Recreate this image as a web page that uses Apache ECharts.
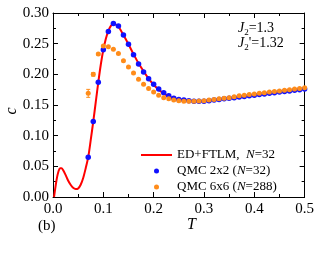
<!DOCTYPE html>
<html>
<head>
<meta charset="utf-8">
<script src="https://cdn.jsdelivr.net/npm/echarts@6/dist/echarts.min.js"></script>
<style>html,body{margin:0;padding:0;background:#fff}#c{width:317px;height:273px}</style>
</head>
<body>
<div id="c"></div>
<script>
// ED+FTLM curve (T, C)
const edT = [0.002,0.005,0.008,0.011,0.014,0.017,0.020,0.025,0.030,0.035,0.040,0.045,0.050,0.055,0.060,0.065,0.070,0.075,0.080,0.085,0.090,0.095,0.100,0.105,0.110,0.115,0.120,0.125,0.130,0.14,0.15,0.16,0.17,0.18,0.19,0.20,0.21,0.22,0.23,0.24,0.25,0.26,0.27,0.28,0.29,0.30,0.32,0.34,0.36,0.38,0.40,0.42,0.44,0.46,0.48,0.50];
const edC = [0.000,0.017,0.032,0.042,0.047,0.047,0.044,0.036,0.027,0.020,0.015,0.013,0.014,0.020,0.031,0.047,0.065,0.093,0.123,0.155,0.187,0.216,0.240,0.258,0.271,0.279,0.282,0.281,0.278,0.264,0.249,0.233,0.218,0.205,0.193,0.183,0.175,0.169,0.164,0.161,0.159,0.158,0.157,0.1563,0.1562,0.1565,0.158,0.160,0.162,0.1645,0.167,0.169,0.171,0.173,0.175,0.177];

// QMC temperatures
const qmcT = [0.07,0.08,0.09,0.10,0.11,0.12,0.13,0.14,0.15,0.16,0.17,0.18,0.19,0.20,0.21,0.22,0.23,0.24,0.25,0.26,0.27,0.28,0.29,0.30,0.31,0.32,0.33,0.34,0.35,0.36,0.37,0.38,0.39,0.40,0.41,0.42,0.43,0.44,0.45,0.46,0.47,0.48,0.49,0.50];
// QMC 2x2 (N=32)
const qmc2C = [0.065,0.123,0.187,0.240,0.270,0.283,0.279,0.264,0.249,0.232,0.217,0.204,0.193,0.184,0.176,0.170,0.165,0.161,0.159,0.158,0.157,0.156,0.156,0.156,0.157,0.158,0.159,0.160,0.161,0.162,0.163,0.164,0.165,0.166,0.167,0.168,0.169,0.170,0.171,0.172,0.173,0.174,0.175,0.176];
// QMC 6x6 (N=288)
const qmc6C = [0.169,0.200,0.233,0.246,0.245,0.241,0.234,0.222,0.212,0.202,0.192,0.184,0.177,0.171,0.166,0.162,0.160,0.158,0.157,0.156,0.156,0.156,0.1565,0.157,0.158,0.159,0.160,0.161,0.162,0.1635,0.165,0.166,0.167,0.168,0.169,0.170,0.171,0.172,0.173,0.174,0.175,0.176,0.177,0.178];
const qmc6Err = [0.0065,0.003,0.0015,0,0,0,0,0,0,0,0,0,0,0,0,0,0,0,0,0,0,0,0,0,0,0,0,0,0,0,0,0,0,0,0,0,0,0,0,0,0,0,0,0];

const xTicks = [0.0,0.1,0.2,0.3,0.4,0.5];
const yTicks = [0.00,0.05,0.10,0.15,0.20,0.25,0.30];

const FONT = 'Liberation Serif';
const RED = '#ff0000', BLUE = '#1010ff', ORANGE = '#ff8c1a';

const edData = edT.map((t,i)=>[t, edC[i]]);
const q2Data = qmcT.map((t,i)=>[t, qmc2C[i]]);
const q6Data = qmcT.map((t,i)=>[t, qmc6C[i]]);
const errData = qmcT.map((t,i)=>[t, qmc6C[i], qmc6Err[i]]).filter(d=>d[2]>0);

const axisCommon = {
  type: 'value',
  axisLine: {show: true, onZero: false, lineStyle: {color: '#000', width: 1}},
  axisTick: {show: true, inside: true, length: 5, lineStyle: {color: '#000'}},
  minorTick: {show: true, splitNumber: 2, length: 3, lineStyle: {color: '#000'}},
  splitLine: {show: false},
};

const chart = echarts.init(document.getElementById('c'), null, {renderer: 'canvas'});
chart.setOption({
  animation: false,
  grid: {left: 53, right: 12, top: 13, bottom: 76, containLabel: false},
  xAxis: [
    Object.assign({}, axisCommon, {
      min: xTicks[0], max: xTicks[xTicks.length-1], interval: 0.1, position: 'bottom',
      axisLabel: {fontFamily: FONT, fontSize: 15, color: '#000', margin: 5, formatter: v => v.toFixed(1)}
    }),
    Object.assign({}, axisCommon, {
      min: xTicks[0], max: xTicks[xTicks.length-1], interval: 0.1, position: 'top',
      axisLabel: {show: false}
    })
  ],
  yAxis: [
    Object.assign({}, axisCommon, {
      min: yTicks[0], max: yTicks[yTicks.length-1], interval: 0.05, position: 'left',
      axisLabel: {fontFamily: FONT, fontSize: 15, color: '#000', margin: 4, formatter: v => v.toFixed(2)}
    }),
    Object.assign({}, axisCommon, {
      min: yTicks[0], max: yTicks[yTicks.length-1], interval: 0.05, position: 'right',
      axisLabel: {show: false}
    })
  ],
  legend: {
    orient: 'vertical', left: 141, top: 147,
    itemWidth: 31, itemHeight: 5, itemGap: 0,
    padding: 0,
    symbolKeepAspect: true,
    textStyle: {fontFamily: FONT, fontSize: 13, color: '#000', lineHeight: 16,
      rich: {i: {fontFamily: FONT, fontSize: 13, fontStyle: 'italic', lineHeight: 16}}},
    data: [
      {name: 'ED+FTLM', icon: 'path://M0 0H31V2H0Z', itemStyle: {color: RED}},
      {name: 'QMC 2x2', icon: 'circle'},
      {name: 'QMC 6x6', icon: 'circle'}
    ],
    formatter: function(name){
      if (name === 'ED+FTLM') return 'ED+FTLM,  {i|N}=32';
      if (name === 'QMC 2x2') return 'QMC 2x2 ({i|N}=32)';
      return 'QMC 6x6 ({i|N}=288)';
    }
  },
  series: [
    {name: 'ED+FTLM', type: 'line', data: edData, smooth: 0.3, showSymbol: false, symbol: 'none',
      lineStyle: {color: RED, width: 2}, itemStyle: {color: RED}, z: 2},
    {name: 'QMC 2x2', type: 'scatter', data: q2Data, symbol: 'circle', symbolSize: 5.5,
      itemStyle: {color: BLUE, opacity: 1}, z: 3},
    {name: 'QMC 6x6', type: 'scatter', data: q6Data, symbol: 'circle', symbolSize: 5,
      itemStyle: {color: ORANGE, opacity: 1}, z: 4},
    {name: 'err', type: 'custom', data: errData, z: 4,
      renderItem: function(params, api){
        const x = api.value(0), y = api.value(1), e = api.value(2);
        const top = api.coord([x, y + e]), bot = api.coord([x, y - e]);
        const st = {stroke: ORANGE, lineWidth: 1};
        return {type: 'group', children: [
          {type: 'line', shape: {x1: top[0], y1: top[1], x2: bot[0], y2: bot[1]}, style: st},
          {type: 'line', shape: {x1: top[0]-2, y1: top[1], x2: top[0]+2, y2: top[1]}, style: st},
          {type: 'line', shape: {x1: bot[0]-2, y1: bot[1], x2: bot[0]+2, y2: bot[1]}, style: st}
        ]};
      }
    }
  ],
  graphic: [
    {type: 'text', left: 187, top: 217, style: {text: 'T', font: 'italic 16px "Liberation Serif"', fill: '#000'}},
    {type: 'text', x: 12, y: 111, rotation: Math.PI/2,
      style: {text: 'c', font: 'italic 16px "Liberation Serif"', fill: '#000', align: 'center', verticalAlign: 'middle'}},
    {type: 'text', left: 38, top: 219, style: {text: '(b)', font: '15px "Liberation Serif"', fill: '#000'}},
    {type: 'text', left: 238, top: 21, style: {
      text: '{i|J}{s|2}=1.3', fill: '#000',
      rich: {i: {fontFamily: FONT, fontStyle: 'italic', fontSize: 14, fill: '#000'},
             s: {fontFamily: FONT, fontSize: 9, padding: [9,0,0,0], fill: '#000'}},
      fontFamily: FONT, fontSize: 14}},
    {type: 'text', left: 238, top: 36, style: {
      text: "{i|J}{s|2}'=1.32", fill: '#000',
      rich: {i: {fontFamily: FONT, fontStyle: 'italic', fontSize: 14, fill: '#000'},
             s: {fontFamily: FONT, fontSize: 9, padding: [9,0,0,0], fill: '#000'}},
      fontFamily: FONT, fontSize: 14}}
  ]
});
</script>
</body>
</html>
